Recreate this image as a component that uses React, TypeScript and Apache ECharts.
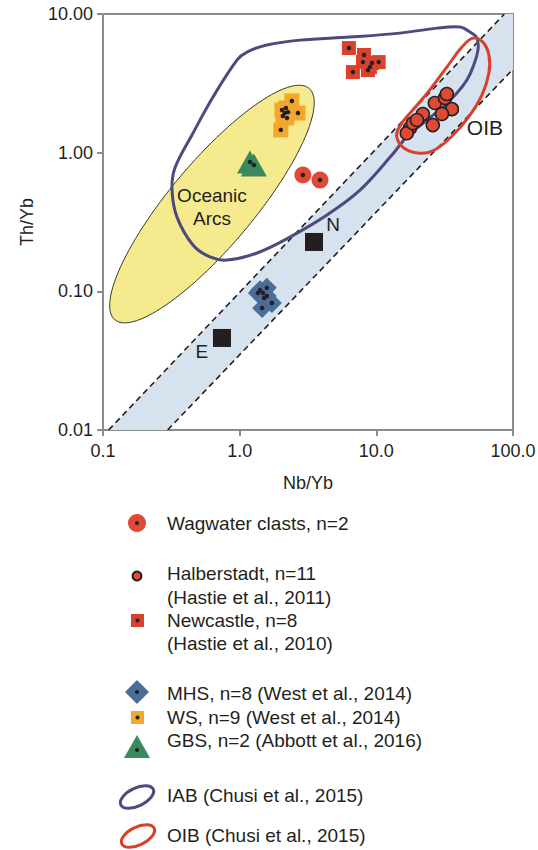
import React, { useEffect, useRef } from 'react';
import * as echarts from 'echarts';

type P = [number, number];

// Axis tick labels (one per decade)
const xTickLabels = ['0.1', '1.0', '10.0', '100.0'];
const yTickLabels = ['0.01', '0.10', '1.00', '10.00'];
const X_MIN = 0.1, X_MAX = 100, Y_MIN = 0.01, Y_MAX = 10;

// Samples (Nb/Yb, Th/Yb)
const wagwater: P[] = [[2.90, 0.690], [3.87, 0.635]];
const halberstadt: P[] = [
  [17.6, 1.50], [16.7, 1.38], [18.5, 1.63], [21.9, 1.90], [26.8, 2.28], [31.8, 2.48],
  [32.8, 2.65], [35.7, 2.06], [30.2, 1.90], [25.9, 1.58], [19.8, 1.72],
];
const newcastle: P[] = [
  [6.30, 5.68], [8.12, 5.06], [7.98, 4.50], [9.29, 4.43], [10.4, 4.50], [8.98, 4.14], [8.68, 3.94], [6.74, 3.81],
];
const mhs: P[] = [
  [1.41, 0.102], [1.48, 0.0972], [1.58, 0.106], [1.58, 0.0925], [1.72, 0.0823], [1.46, 0.0758], [1.36, 0.0972], [1.51, 0.0895],
];
const ws: P[] = [
  [2.41, 2.36], [2.04, 2.03], [2.14, 1.93], [2.26, 1.96], [2.67, 1.93], [2.07, 1.84], [2.22, 1.78], [2.00, 1.46], [2.18, 2.10],
];
const gbs: P[] = [[1.19, 0.856], [1.27, 0.814]];
const nMorb: P = [3.50, 0.227];
const eMorb: P = [0.742, 0.0461];

// Mantle array (dashed boundaries)
const mantleUpper: P[] = [[0.11, 0.01], [86.5, 10]];
const mantleLower: P[] = [[0.297, 0.01], [100, 4.0]];
const mantleBand: P[] = [[0.11, 0.01], [86.5, 10], [100, 10], [100, 4.0], [0.297, 0.01]];

// Oceanic arcs field (ellipse: centre, end of major axis, end of minor axis)
const arcsCenter: P = [0.627, 0.426];
const arcsMajorTip: P = [3.22, 2.91];
const arcsMinorTip: P = [0.365, 0.667];
const arcsLabelAt: P = [0.627, 0.405];

// IAB field outline (Chusi et al., 2015)
const iabOutline: P[] = [
  [0.955, 4.65], [1.13, 5.31], [1.58, 5.97], [2.76, 6.48], [6.41, 6.82], [14.9, 7.28], [27.8, 7.91],
  [40.9, 8.05], [48.4, 7.41], [54.4, 6.70], [55.4, 5.49], [50.9, 4.14], [46.0, 3.34], [38.9, 2.69],
  [30.7, 2.13], [23.5, 1.72], [16.7, 1.30], [13.0, 0.961], [7.59, 0.537], [4.35, 0.355], [2.33, 0.246],
  [1.34, 0.189], [0.807, 0.168], [0.606, 0.177], [0.455, 0.216], [0.348, 0.343], [0.320, 0.537],
  [0.336, 0.774], [0.455, 1.38], [0.638, 2.52],
];

// OIB field outline (Chusi et al., 2015)
const oibOutline: P[] = [
  [50.9, 6.70], [60.2, 6.27], [66.6, 5.06], [66.6, 3.75], [59.2, 2.60], [46.8, 1.78], [34.5, 1.27],
  [25.9, 1.03], [20.2, 0.993], [15.9, 1.08], [14.1, 1.30], [14.9, 1.56], [17.9, 1.96], [23.9, 2.73],
  [32.8, 4.14], [42.3, 5.77],
];
const oibLabelAt: P = [62.3, 1.53];

const legendLabels = [
  'Wagwater clasts, n=2',
  'Halberstadt, n=11',
  '(Hastie et al., 2011)',
  'Newcastle, n=8',
  '(Hastie et al., 2010)',
  'MHS, n=8 (West et al., 2014)',
  'WS, n=9 (West et al., 2014)',
  'GBS, n=2 (Abbott et al., 2016)',
  'IAB (Chusi et al., 2015)',
  'OIB (Chusi et al., 2015)',
];

const FONT = "'Liberation Sans', Arial, Helvetica, sans-serif";
const INK = '#231f20';
const RED = '#e04a35';
const NEWC = '#d9432e';
const ORANGE = '#f3a72c';
const BLUE = '#4b6d99';
const GREEN = '#3a8a5e';
const IAB_COL = '#4e4a7e';
const OIB_COL = '#d8402e';
const AXIS_COL = '#8c8c8c';

function buildOption(): any {
  const legendY = [523, 573, 597, 620, 643, 693, 717, 740, 795, 835];
  const textX = 167;
  const graphics: any[] = legendLabels.map((t, i) => ({
    type: 'text',
    x: textX,
    y: legendY[i],
    style: { text: t, fontSize: 19, fontFamily: FONT, fill: INK, verticalAlign: 'middle', align: 'left' },
  }));
  const dot = (cx: number, cy: number) => ({ type: 'circle', shape: { cx, cy, r: 2 }, style: { fill: INK } });
  graphics.push(
    { type: 'circle', shape: { cx: 137, cy: 523, r: 9 }, style: { fill: RED } },
    dot(137, 523),
    { type: 'circle', shape: { cx: 137, cy: 576, r: 4.5 }, style: { fill: RED, stroke: INK, lineWidth: 2 } },
    { type: 'rect', shape: { x: 131, y: 614, width: 13, height: 13 }, style: { fill: NEWC } },
    dot(137.5, 620.5),
    { type: 'polygon', shape: { points: [[137, 680], [149, 692], [137, 704], [125, 692]] }, style: { fill: BLUE } },
    dot(137, 692),
    { type: 'rect', shape: { x: 131, y: 711, width: 13, height: 13 }, style: { fill: ORANGE } },
    dot(137.5, 717.5),
    { type: 'polygon', shape: { points: [[137, 735], [150, 758], [124, 758]] }, style: { fill: GREEN } },
    dot(137, 750),
    { type: 'ellipse', x: 137, y: 797, rotation: 0.45, shape: { cx: 0, cy: 0, rx: 18, ry: 9 }, style: { fill: 'none', stroke: IAB_COL, lineWidth: 3 } },
    { type: 'ellipse', x: 138, y: 836, rotation: 0.45, shape: { cx: 0, cy: 0, rx: 18, ry: 9 }, style: { fill: 'none', stroke: OIB_COL, lineWidth: 3 } },
  );

  const polySeries = (data: P[], style: any, smooth: number, z: number) => ({
    type: 'custom',
    coordinateSystem: 'cartesian2d',
    data,
    encode: { x: 0, y: 1 },
    silent: true,
    z,
    clip: true,
    renderItem: (params: any, api: any) => {
      if (params.dataIndex !== 0) return null;
      const pts = data.map((p) => api.coord(p));
      return { type: 'polygon', shape: { points: pts, smooth }, style };
    },
  });

  const ellipseSeries = {
    type: 'custom',
    coordinateSystem: 'cartesian2d',
    data: [arcsCenter],
    encode: { x: 0, y: 1 },
    silent: true,
    z: 3,
    renderItem: (_params: any, api: any) => {
      const c = api.coord(arcsCenter);
      const u = api.coord(arcsMajorTip);
      const v = api.coord(arcsMinorTip);
      const ux = u[0] - c[0], uy = u[1] - c[1], vx = v[0] - c[0], vy = v[1] - c[1];
      const pts: number[][] = [];
      const n = 120;
      for (let i = 0; i < n; i++) {
        const t = (i / n) * Math.PI * 2;
        pts.push([c[0] + ux * Math.cos(t) + vx * Math.sin(t), c[1] + uy * Math.cos(t) + vy * Math.sin(t)]);
      }
      return { type: 'polygon', shape: { points: pts }, style: { fill: '#f6ea8f', stroke: '#3a3a2a', lineWidth: 1 } };
    },
  };

  const dashed = (data: P[]) => ({
    type: 'line',
    data,
    showSymbol: false,
    symbol: 'none',
    silent: true,
    z: 2,
    lineStyle: { color: INK, width: 1.6, type: [6, 4] },
  });

  const scatter = (data: any[], symbol: string, size: any, itemStyle: any, z = 10) => ({
    type: 'scatter',
    data,
    symbol,
    symbolSize: size,
    itemStyle: { opacity: 1, ...itemStyle },
    silent: true,
    z,
  });

  const annotLabel = {
    show: true, formatter: '{b}', position: 'inside', color: INK, opacity: 1,
    fontSize: 19, fontFamily: FONT, textBorderWidth: 0,
  };

  return {
    animation: false,
    backgroundColor: '#ffffff',
    grid: {
      left: 103, top: 14, width: 410, height: 416,
      show: true, borderColor: AXIS_COL, borderWidth: 2, backgroundColor: 'transparent',
      outerBoundsMode: 'none',
    },
    xAxis: {
      type: 'log', logBase: 10, min: X_MIN, max: X_MAX,
      name: 'Nb/Yb', nameLocation: 'middle', nameGap: 44,
      nameTextStyle: { fontSize: 18, fontFamily: FONT, color: INK },
      axisLine: { show: true, onZero: false, lineStyle: { color: AXIS_COL, width: 2 } },
      axisTick: { show: true, length: 6, lineStyle: { color: AXIS_COL, width: 2 } },
      minorTick: { show: false },
      splitLine: { show: false },
      axisLabel: {
        fontSize: 18, fontFamily: FONT, color: INK, margin: 12,
        formatter: (v: number) => xTickLabels[Math.round(Math.log10(v)) - Math.round(Math.log10(X_MIN))] ?? '',
      },
    },
    yAxis: {
      type: 'log', logBase: 10, min: Y_MIN, max: Y_MAX,
      name: 'Th/Yb', nameLocation: 'middle', nameGap: 67,
      nameTextStyle: { fontSize: 18, fontFamily: FONT, color: INK },
      axisLine: { show: true, onZero: false, lineStyle: { color: AXIS_COL, width: 2 } },
      axisTick: { show: true, length: 6, lineStyle: { color: AXIS_COL, width: 2 } },
      minorTick: { show: false },
      splitLine: { show: false },
      axisLabel: {
        fontSize: 18, fontFamily: FONT, color: INK, margin: 10,
        formatter: (v: number) => yTickLabels[Math.round(Math.log10(v)) - Math.round(Math.log10(Y_MIN))] ?? '',
      },
    },
    graphic: graphics,
    series: [
      polySeries(mantleBand, { fill: '#d6e2ee', stroke: 'none' }, 0, 1),
      dashed(mantleUpper),
      dashed(mantleLower),
      ellipseSeries,
      polySeries(iabOutline, { fill: 'none', stroke: IAB_COL, lineWidth: 3 }, 0.35, 4),
      polySeries(oibOutline, { fill: 'none', stroke: OIB_COL, lineWidth: 3 }, 0.4, 5),
      // annotations
      {
        type: 'scatter', silent: true, z: 6, symbolSize: 1, itemStyle: { color: 'transparent', opacity: 1 },
        data: [
          { value: arcsLabelAt, name: 'Oceanic\nArcs', label: { ...annotLabel, lineHeight: 23 } },
          { value: oibLabelAt, name: 'OIB', label: { ...annotLabel, fontSize: 21 } },
        ],
      },
      scatter(newcastle, 'rect', 14, { color: NEWC }),
      scatter(ws, 'rect', 15, { color: ORANGE }),
      scatter(gbs, 'triangle', [26, 23], { color: GREEN }),
      scatter(mhs, 'diamond', 20, { color: BLUE }),
      scatter(wagwater, 'circle', 17, { color: RED }),
      scatter(halberstadt, 'circle', 13, { color: RED, borderColor: INK, borderWidth: 1.5 }),
      {
        type: 'scatter', silent: true, z: 11, symbol: 'rect', symbolSize: 18,
        itemStyle: { color: INK, opacity: 1 },
        data: [
          { value: nMorb, name: 'N', label: { ...annotLabel, offset: [19, -17] } },
          { value: eMorb, name: 'E', label: { ...annotLabel, offset: [-20, 14] } },
        ],
      },
      scatter([...wagwater, ...newcastle, ...mhs, ...ws, ...gbs], 'circle', 4.5, { color: INK }, 12),
    ],
  };
}

export default function App() {
  const ref = useRef<HTMLDivElement>(null);
  useEffect(() => {
    if (!ref.current) return;
    const chart = echarts.init(ref.current, null, { renderer: 'svg' });
    chart.setOption(buildOption());
    return () => chart.dispose();
  }, []);
  return <div ref={ref} style={{ position: 'absolute', left: 0, top: 0, width: 538, height: 850 }} />;
}
